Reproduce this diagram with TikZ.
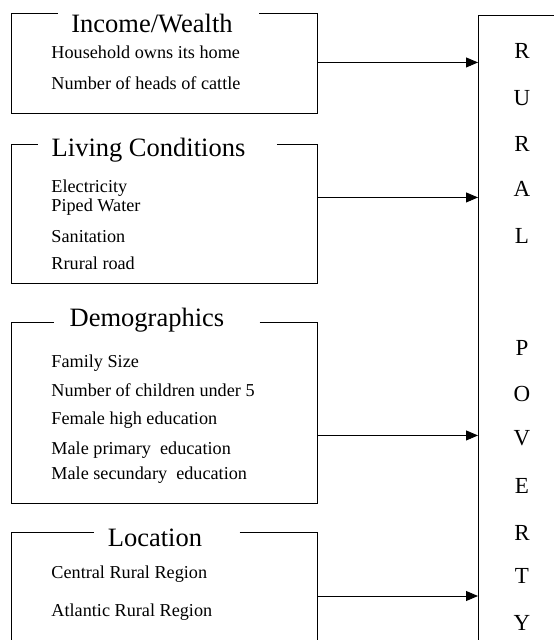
\documentclass[tikz,border=0pt]{standalone}
\usepackage{fontspec}
\setmainfont{Liberation Serif}
\usetikzlibrary{arrows.meta}
\begin{document}
\begin{tikzpicture}[x=1pt,y=-1pt,
  line width=0.9pt,
  grp/.style={draw=none,minimum width=306pt,inner sep=0pt,anchor=north west},
  ttl/.style={font=\fontsize{26.5}{30}\selectfont,inner sep=0pt,anchor=base},
  itm/.style={font=\fontsize{18.2}{21}\selectfont,inner sep=0pt,anchor=base west},
  ltr/.style={font=\fontsize{23}{28}\selectfont,inner sep=0pt,anchor=base},
  arr/.style={-{Triangle[length=12pt,width=10pt]}}]
\useasboundingbox (0,0) rectangle (554,640);
\clip (0,0) rectangle (554,640);

% group boxes (invisible nodes, borders drawn below)
\node[grp,minimum height=100pt] (g1) at (11,13) {};
\node[grp,minimum height=139pt] (g2) at (11,144) {};
\node[grp,minimum height=181pt] (g3) at (11,322) {};
\node[grp,minimum height=170pt] (g4) at (11,532) {};

% titles
\node[ttl] (t1) at (152,32.3) {Income/Wealth};
\node[ttl] (t2) at (148.5,156.7) {Living Conditions};
\node[ttl] (t3) at (147,326.7) {Demographics};
\node[ttl] (t4) at (155,546.7) {Location};

% borders with gaps for titles
\draw ([xshift=26pt]t1.east |- g1.north) -| (g1.south east) -| (g1.north west) -- ([xshift=-13pt]t1.west |- g1.north);
\draw ([xshift=31pt]t2.east |- g2.north) -| (g2.south east) -| (g2.north west) -- ([xshift=-13pt]t2.west |- g2.north);
\draw ([xshift=35pt]t3.east |- g3.north) -| (g3.south east) -| (g3.north west) -- ([xshift=-15pt]t3.west |- g3.north);
\draw ([xshift=37pt]t4.east |- g4.north) -| (g4.south east) -| (g4.north west) -- ([xshift=-13pt]t4.west |- g4.north);

% items
\node[itm] (a1) at (51,58.3) {Household owns its home};
\node[itm] (a2) at (51,89.3) {Number of heads of cattle};

\node[itm] (b1) at (51,192.7) {Electricity};
\node[itm] (b2) at (51,211.7) {Piped Water};
\node[itm] (b3) at (51,242.7) {Sanitation};
\node[itm] (b4) at (51,269) {Rrural road};

\node[itm] (c1) at (51,367.7) {Family Size};
\node[itm] (c2) at (51,396) {Number of children under 5};
\node[itm] (c3) at (51,424) {Female high education};
\node[itm] (c4) at (51,454) {Male primary\ \ education};
\node[itm] (c5) at (51,479) {Male secundary\ \ education};

\node[itm] (d1) at (51,578) {Central Rural Region};
\node[itm] (d2) at (51,616) {Atlantic Rural Region};

% rural poverty box
\node[draw,anchor=north west,minimum width=150pt,minimum height=700pt,inner sep=0pt] (pov) at (478,15) {};
\foreach \l/\y [count=\i] in {R/58.3,U/105,R/151.7,A/196.7,L/243.3,P/355,O/401.7,V/445,E/493.3,R/540,T/583.3,Y/630}
  \node[ltr] (p\i) at (522,\y) {\l};

% arrows
\draw[arr] ([yshift=1pt]g1.east) -- ([yshift=1pt]g1.east -| pov.west);
\draw[arr] ([yshift=16.5pt]g2.east) -- ([yshift=16.5pt]g2.east -| pov.west);
\draw[arr] ([yshift=-22.5pt]g3.east) -- ([yshift=-22.5pt]g3.east -| pov.west);
\draw[arr] (g4.north east |- 0,596) -- (pov.west |- 0,596);
\end{tikzpicture}
\end{document}
